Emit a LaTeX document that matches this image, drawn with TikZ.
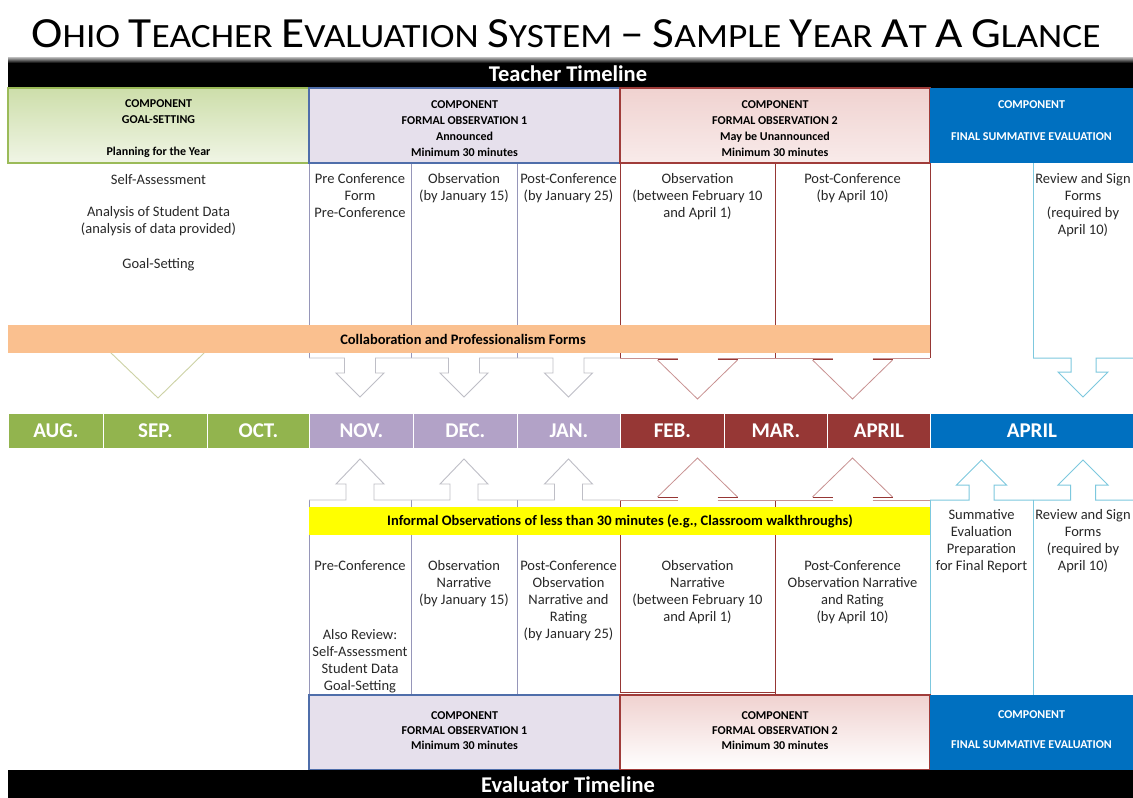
\documentclass[tikz,border=0pt]{standalone}
\usepackage{fontspec}
\setmainfont{Carlito}
\definecolor{mgreen}{RGB}{146,180,78}
\definecolor{mlav}{RGB}{178,162,199}
\definecolor{mred}{RGB}{150,55,53}
\definecolor{mblue}{RGB}{0,112,192}
\definecolor{morange}{RGB}{250,192,143}
\definecolor{myellow}{RGB}{255,255,0}
\definecolor{lblue}{RGB}{125,200,222}
\definecolor{lavline}{RGB}{150,150,185}
\definecolor{grayarr}{RGB}{190,190,198}
\definecolor{redthin}{RGB}{200,145,145}
\definecolor{hlav}{RGB}{230,224,236}
\definecolor{hlavb}{RGB}{79,110,170}
\definecolor{hgreen}{RGB}{205,222,170}
\definecolor{hgreenb}{RGB}{155,187,89}
\definecolor{hpink}{RGB}{240,210,208}
\definecolor{hpinkb}{RGB}{160,60,58}
\definecolor{vline}{RGB}{205,210,165}
\definecolor{ctxt}{RGB}{40,40,40}
\newcommand\tsc[2]{{\fontsize{43}{43}\selectfont #1}{\fontsize{34}{34}\selectfont #2}}
\begin{document}
\begin{tikzpicture}[x=1pt,y=-1pt,
  ctext/.style={font=\fontsize{14.5}{17}\selectfont, align=center, text=ctxt, inner sep=0pt, anchor=north},
  htext/.style={font=\bfseries\fontsize{12}{16}\selectfont, align=center, inner sep=0pt},
  bhtext/.style={font=\bfseries\fontsize{12}{15}\selectfont, align=center, inner sep=0pt},
  monthbox/.style={draw=white, line width=0.8pt, font=\bfseries\fontsize{21}{21}\selectfont, text=white, inner sep=0pt, minimum height=35pt, anchor=west},
  bartext/.style={font=\bfseries\fontsize{14.5}{15}\selectfont, inner sep=0pt},
  timeline/.style={font=\bfseries\fontsize{22.5}{22.5}\selectfont, text=white, inner sep=0pt},
  garr/.style={draw=grayarr, line width=0.9pt, line join=miter},
  rarr/.style={draw=redthin, line width=0.8pt},
  rthick/.style={draw=mred, line width=1.4pt},
  barr/.style={draw=lblue, line width=1pt},
  lavl/.style={draw=lavline, line width=0.8pt},
  redl/.style={draw=mred, line width=0.9pt},
  bluel/.style={draw=lblue, line width=0.9pt}
]
\useasboundingbox (0,0) rectangle (1133,798);
\fill[white] (0,0) rectangle (1133,798);

% title
\node[inner sep=0pt, font=\fontsize{34}{40}\selectfont] (title) at (566,34) {\scalebox{1.1}[1]{\tsc{O}{HIO} \tsc{T}{EACHER} \tsc{E}{VALUATION} \tsc{S}{YSTEM} \tsc{–}{} \tsc{S}{AMPLE} \tsc{Y}{EAR} \tsc{A}{T} \tsc{A}{} \tsc{G}{LANCE}}};

% teacher timeline bar
\fill[black] (8,60) rectangle (1133,88);
\shade[top color=black!25, bottom color=black] (8,57) rectangle (1133,63);
\node[timeline] (ttl) at (568,74) {Teacher Timeline};

% ---------- top cells ----------
\draw[lavl] (309,163) -- (309,358) (411,163) -- (411,358) (517,163) -- (517,358);
\draw[redl] (620,163) -- (620,358) (775,163) -- (775,358) (930,163) -- (930,358);
\draw[bluel] (1033,163) -- (1033,358) (1133,163) -- (1133,358);

% goal V
\draw[draw=vline, line width=0.9pt] (110,352) -- (158,398) -- (205,352);

% obs1 down arrows
\foreach \l/\r in {309/411, 411/517, 517/620} {
  \pgfmathsetmacro\c{(\l+\r)/2}
  \draw[garr] (\l,358) -- (\c-15.5,358) -- (\c-15.5,373) -- (\c-24,373) -- (\c,397) -- (\c+24,373) -- (\c+15.5,373) -- (\c+15.5,358) -- (\r,358);
}
% obs2 down arrows
\foreach \l/\r in {620/775, 775/930} {
  \pgfmathsetmacro\c{(\l+\r)/2}
  \draw[rarr] (\l,358) -- (\c-20,358) (\c+20,358) -- (\r,358);
  \draw[rarr] (\c-40,360) -- (\c,399) -- (\c+40,360);
  \draw[rthick] (\c-40,359.5) -- (\c-20,359.5) (\c+20,359.5) -- (\c+40,359.5);
}
% final down arrow
\draw[barr] (1033,358) -- (1071,358) -- (1071,372) -- (1058,372) -- (1083,397) -- (1108,372) -- (1096,372) -- (1096,358) -- (1133,358);

% orange bar
\fill[morange] (8,325) rectangle (930,353);
\node[bartext] (collab) at (463,339) {Collaboration and Professionalism Forms};

% top headers
\shade[draw=hgreenb, line width=1.6pt, top color=hgreen, bottom color=hgreen!30] (8,88) rectangle (309,163);
\node[htext] (hgoal) at (158.5,129) {COMPONENT\\GOAL-SETTING\\\mbox{}\\Planning for the Year};
\draw[draw=hlavb, line width=1.6pt, fill=hlav] (309,88) rectangle (620,163);
\node[htext] (hobs1) at (464.5,129) {COMPONENT\\FORMAL OBSERVATION 1\\Announced\\Minimum 30 minutes};
\shade[draw=hpinkb, line width=1.6pt, top color=hpink, bottom color=hpink!45] (620,88) rectangle (930,163);
\node[htext] (hobs2) at (775,129) {COMPONENT\\FORMAL OBSERVATION 2\\May be Unannounced\\Minimum 30 minutes};
\fill[mblue] (930,88) rectangle (1133,163);
\node[htext, text=white] (hfin) at (1031.5,121) {COMPONENT\\\mbox{}\\FINAL SUMMATIVE EVALUATION};

% top cell texts
\node[ctext] (t1) at (158.5,174) {Self-Assessment\\[15pt]Analysis of Student Data\\(analysis of data provided)\\[18pt]Goal-Setting};
\node[ctext] (t2) at (360,173) {Pre Conference\\Form\\Pre-Conference};
\node[ctext] (t3) at (464,173) {Observation\\(by January 15)};
\node[ctext] (t4) at (568.5,173) {Post-Conference\\(by January 25)};
\node[ctext] (t5) at (697.5,173) {Observation\\(between February 10\\and April 1)};
\node[ctext] (t6) at (852.5,173) {Post-Conference\\(by April 10)};
\node[ctext] (t7) at (1083,173) {Review and Sign\\Forms\\(required by\\April 10)};

% ---------- month bar ----------
\node[monthbox, fill=mgreen, minimum width=95pt] (aug) at (8,431) {AUG.};
\node[monthbox, fill=mgreen, minimum width=104pt] (sep) at (103,431) {SEP.};
\node[monthbox, fill=mgreen, minimum width=102pt] (oct) at (207,431) {OCT.};
\node[monthbox, fill=mlav, minimum width=104pt] (nov) at (309,431) {NOV.};
\node[monthbox, fill=mlav, minimum width=104pt] (dec) at (413,431) {DEC.};
\node[monthbox, fill=mlav, minimum width=103pt] (jan) at (517,431) {JAN.};
\node[monthbox, fill=mred, minimum width=104pt] (feb) at (620,431) {FEB.};
\node[monthbox, fill=mred, minimum width=103pt] (mar) at (724,431) {MAR.};
\node[monthbox, fill=mred, minimum width=103pt] (apr) at (827,431) {APRIL};
\node[monthbox, fill=mblue, minimum width=203pt] (apr2) at (930,431) {APRIL};

% ---------- bottom cells ----------
\draw[lavl] (309,500) -- (309,695) (411,500) -- (411,695) (517,500) -- (517,695);
\draw[redl] (620,500) -- (620,692) -- (775,692) -- (775,500) (775,692) -- (775,695);
\draw[bluel] (930,500) -- (930,695) (1033,500) -- (1033,695) (1133,500) -- (1133,695);

% obs1 up arrows
\foreach \l/\r in {309/411, 411/517, 517/620} {
  \pgfmathsetmacro\c{(\l+\r)/2}
  \draw[garr] (\l,500) -- (\c-14,500) -- (\c-14,484) -- (\c-24,484) -- (\c,459) -- (\c+24,484) -- (\c+14,484) -- (\c+14,500) -- (\r,500);
}
% obs2 up arrows
\foreach \l/\r in {620/775, 775/930} {
  \pgfmathsetmacro\c{(\l+\r)/2}
  \draw[rarr] (\l,500) -- (\c-20,500) (\c+20,500) -- (\r,500);
  \draw[rarr] (\c-40,497) -- (\c,458) -- (\c+40,497);
  \draw[rthick] (\c-40,497.5) -- (\c-20,497.5) (\c+20,497.5) -- (\c+40,497.5);
}
% final up arrows
\foreach \l/\r in {930/1033, 1033/1133} {
  \pgfmathsetmacro\c{(\l+\r)/2}
  \draw[barr] (\l,500) -- (\c-12.5,500) -- (\c-12.5,485) -- (\c-25,485) -- (\c,460) -- (\c+25,485) -- (\c+12.5,485) -- (\c+12.5,500) -- (\r,500);
}

% yellow bar
\fill[myellow] (309,507) rectangle (930,535);
\node[bartext] (informal) at (620,521) {Informal Observations of less than 30 minutes (e.g., Classroom walkthroughs)};

% bottom cell texts
\node[ctext] (b1) at (360,560) {Pre-Conference};
\node[ctext] (b1b) at (360,629) {Also Review:\\Self-Assessment\\Student Data\\Goal-Setting};
\node[ctext] (b2) at (464,560) {Observation\\Narrative\\(by January 15)};
\node[ctext] (b3) at (568.5,560) {Post-Conference\\Observation\\Narrative and\\Rating\\(by January 25)};
\node[ctext] (b4) at (697.5,560) {Observation\\Narrative\\(between February 10\\and April 1)};
\node[ctext] (b5) at (852.5,560) {Post-Conference\\Observation Narrative\\and Rating\\(by April 10)};
\node[ctext] (b6) at (981.5,509) {Summative\\Evaluation\\Preparation\\for Final Report};
\node[ctext] (b7) at (1083,509) {Review and Sign\\Forms\\(required by\\April 10)};

% bottom headers
\draw[draw=hlavb, line width=1.6pt, fill=hlav] (309,695) rectangle (620,770);
\node[bhtext] (bh1) at (464.5,731) {COMPONENT\\FORMAL OBSERVATION 1\\Minimum 30 minutes};
\shade[draw=hpinkb, line width=1.6pt, top color=hpink, bottom color=white] (620,695) rectangle (930,770);
\node[bhtext] (bh2) at (775,731) {COMPONENT\\FORMAL OBSERVATION 2\\Minimum 30 minutes};
\fill[mblue] (930,695) rectangle (1133,770);
\node[bhtext, text=white] (bh3) at (1031.5,730) {COMPONENT\\\mbox{}\\FINAL SUMMATIVE EVALUATION};

% evaluator bar
\fill[black] (8,770) rectangle (1133,798);
\node[timeline] (etl) at (568,785) {Evaluator Timeline};
\end{tikzpicture}
\end{document}
